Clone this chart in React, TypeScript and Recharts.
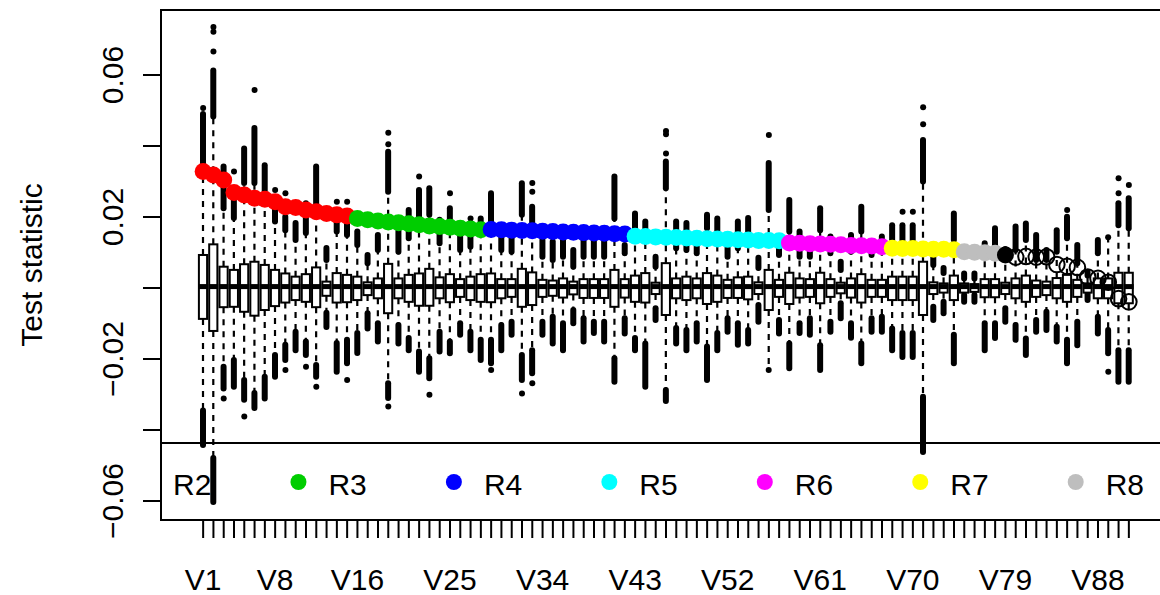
import { ComposedChart, Bar, Scatter, XAxis, YAxis } from "recharts";

const FONT = "'Liberation Sans', Arial, Helvetica, sans-serif";

// categories V1..V91
const variables = Array.from({ length: 91 }, (_, i) => `V${i + 1}`);
const shownXLabels = ["V1", "V8", "V16", "V25", "V34", "V43", "V52", "V61", "V70", "V79", "V88"];
const yTicks = [-0.06, -0.04, -0.02, 0, 0.02, 0.04, 0.06];
const shownYLabels = ["0.06", "0.02", "-0.02", "-0.06"];

// observed test statistic per variable (coloured points)
const statValues = [
  0.0328, 0.0318, 0.0304, 0.0269, 0.0262, 0.0253, 0.025, 0.0243, 0.0229, 0.0227,
  0.022, 0.0215, 0.021, 0.0206, 0.0203, 0.0196, 0.0192, 0.0189, 0.0186, 0.0184,
  0.0181, 0.0178, 0.0175, 0.0173, 0.0171, 0.0168, 0.0166, 0.0164, 0.0165, 0.0164,
  0.0163, 0.0162, 0.0161, 0.016, 0.0159, 0.0158, 0.0157, 0.0156, 0.0155, 0.0154,
  0.0153, 0.0152, 0.0146, 0.0145, 0.0144, 0.0143, 0.0142, 0.0141, 0.014, 0.0139,
  0.0138, 0.0137, 0.0136, 0.0135, 0.0134, 0.0134, 0.0133, 0.0127, 0.0126, 0.0125,
  0.0124, 0.0123, 0.0122, 0.012, 0.0119, 0.0118, 0.0116, 0.0112, 0.0111, 0.0111,
  0.011, 0.0109, 0.0109, 0.0108, 0.0102, 0.0101, 0.0099, 0.0098, 0.0093, 0.0087,
  0.0089, 0.0087, 0.0088, 0.0066, 0.0061, 0.0058, 0.0031, 0.0027, 0.0016, -0.003,
  -0.0039,
];

// boxplot quartiles and medians
const boxHigh = [
  0.0093, 0.0123, 0.006, 0.0051, 0.0067, 0.0074, 0.0065, 0.0051, 0.0041, 0.0032,
  0.0039, 0.0058, 0.0018, 0.0042, 0.0037, 0.0032, 0.0016, 0.0027, 0.0068, 0.0027,
  0.0037, 0.0041, 0.0054, 0.003, 0.0039, 0.0025, 0.0032, 0.0039, 0.0041, 0.0025,
  0.0025, 0.0054, 0.0044, 0.0023, 0.0021, 0.0027, 0.0018, 0.0025, 0.0025, 0.0025,
  0.0051, 0.0025, 0.0035, 0.0042, 0.0015, 0.007, 0.0027, 0.0032, 0.0027, 0.0042,
  0.0035, 0.0023, 0.003, 0.0032, 0.0016, 0.0051, 0.0023, 0.0043, 0.0027, 0.0025,
  0.0043, 0.0025, 0.0015, 0.0027, 0.0039, 0.0023, 0.0023, 0.0032, 0.0032, 0.0032,
  0.0074, 0.0016, 0.0013, 0.0035, 0.0013, 0.0011, 0.0025, 0.0025, 0.0015, 0.0027,
  0.0035, 0.0021, 0.0018, 0.0028, 0.0037, 0.0023, 0.0013, 0.0027, 0.0027, 0.0043,
  0.0043,
];
const boxLow = [
  -0.0087, -0.0121, -0.0054, -0.0053, -0.0067, -0.0078, -0.0062, -0.0051, -0.0041, -0.0034,
  -0.0039, -0.0054, -0.0022, -0.0041, -0.004, -0.0034, -0.002, -0.0029, -0.0071, -0.0029,
  -0.0039, -0.005, -0.005, -0.0029, -0.004, -0.0025, -0.0034, -0.0039, -0.004, -0.0029,
  -0.0025, -0.0053, -0.0048, -0.0025, -0.0022, -0.0027, -0.0018, -0.0028, -0.0028, -0.0028,
  -0.0053, -0.0027, -0.0039, -0.0041, -0.0017, -0.0076, -0.0029, -0.0034, -0.0029, -0.0045,
  -0.0039, -0.0028, -0.0028, -0.0032, -0.0017, -0.0062, -0.0025, -0.0045, -0.0027, -0.0025,
  -0.0043, -0.0025, -0.0015, -0.0027, -0.0041, -0.0025, -0.0025, -0.0034, -0.0034, -0.0034,
  -0.0076, -0.0017, -0.0013, -0.0034, -0.0013, -0.0011, -0.0026, -0.0026, -0.0017, -0.0029,
  -0.0039, -0.0025, -0.002, -0.0029, -0.0039, -0.0025, -0.0013, -0.0029, -0.0029, -0.0043,
  -0.0043,
];
const medians = [
  0.0004, 0.0004, 0.0004, 0.0004, 0.0004, 0.0004, 0.0004, 0.0004, 0.0004, 0.0004,
  0.0004, 0.0004, 0.0004, 0.0004, 0.0004, 0.0004, 0.0004, 0.0004, 0.0004, 0.0004,
  0.0004, 0.0004, 0.0004, 0.0004, 0.0004, 0.0004, 0.0004, 0.0004, 0.0004, 0.0004,
  0.0004, 0.0004, 0.0004, 0.0004, 0.0004, 0.0004, 0.0004, 0.0004, 0.0004, 0.0004,
  0.0004, 0.0004, 0.0004, 0.0004, 0.0004, 0.0004, 0.0004, 0.0004, 0.0004, 0.0004,
  0.0004, 0.0004, 0.0004, 0.0004, 0.0004, 0.0004, 0.0004, 0.0004, 0.0004, 0.0004,
  0.0004, 0.0004, 0.0004, 0.0004, 0.0004, 0.0004, 0.0004, 0.0004, 0.0004, 0.0004,
  0.0004, 0.0004, 0.0004, 0.0004, 0.0004, 0.0004, 0.0004, 0.0004, 0.0004, 0.0004,
  0.0004, 0.0004, 0.0004, 0.0004, 0.0004, 0.0004, 0.0004, 0.0004, 0.0004, 0.0004,
  0.0004,
];

// dense runs of outliers above and below each box (from, to)
const upperOutLow = [
  0.0352, 0.0483, 0.0225, 0.0197, 0.0296, 0.0296, 0.0275, 0.0187, 0.0163, 0.0135,
  0.0155, 0.0201, 0.0079, 0.0159, 0.0149, 0.0121, 0.007, 0.0107, 0.0271, 0.0102,
  0.014, 0.0196, 0.0206, 0.0126, 0.0159, 0.0107, 0.0116, 0.0154, 0.0177, 0.0107,
  0.0102, 0.0206, 0.0173, 0.0088, 0.0079, 0.0088, 0.006, 0.0088, 0.0088, 0.0088,
  0.0196, 0.0098, 0.0168, 0.014, 0.006, 0.0281, 0.0112, 0.0107, 0.0098, 0.0168,
  0.0154, 0.0088, 0.0112, 0.0155, 0.0056, 0.022, 0.0093, 0.0159, 0.0088, 0.0088,
  0.0163, 0.0098, 0.0051, 0.0102, 0.0159, 0.0093, 0.0107, 0.0135, 0.013, 0.013,
  0.03, 0.0065, 0.0042, 0.0135, 0.0027, 0.0027, 0.0107, 0.0107, 0.0093, 0.0107,
  0.0135, 0.0079, 0.0079, 0.0102, 0.014, 0.007, 0.0035, 0.0098, 0.0143, 0.0177,
  0.0168,
];
const upperOutHigh = [
  0.049, 0.0613, 0.0342, 0.0282, 0.0393, 0.0451, 0.0346, 0.0225, 0.0201, 0.0183,
  0.0239, 0.0342, 0.0113, 0.0201, 0.0187, 0.0159, 0.0093, 0.0149, 0.0384, 0.0159,
  0.022, 0.0276, 0.0281, 0.0192, 0.0225, 0.0145, 0.0154, 0.0196, 0.0267, 0.0145,
  0.014, 0.0295, 0.0229, 0.0135, 0.0131, 0.0135, 0.0107, 0.0135, 0.0135, 0.0135,
  0.0314, 0.0121, 0.021, 0.0187, 0.0088, 0.0356, 0.0187, 0.0183, 0.0121, 0.0206,
  0.0196, 0.0116, 0.0187, 0.0197, 0.0085, 0.0352, 0.0112, 0.0248, 0.0159, 0.0107,
  0.0225, 0.0145, 0.0074, 0.0149, 0.0229, 0.0112, 0.0145, 0.0177, 0.0177, 0.0177,
  0.0417, 0.0098, 0.0056, 0.021, 0.0041, 0.0041, 0.0126, 0.0168, 0.011, 0.0173,
  0.0182, 0.0149, 0.0107, 0.0163, 0.0201, 0.0121, 0.0045, 0.0135, 0.0143, 0.0239,
  0.0253,
];
const lowerOutHigh = [
  -0.0345, -0.0479, -0.0222, -0.0203, -0.0259, -0.0296, -0.025, -0.0189, -0.016, -0.0123,
  -0.0151, -0.0217, -0.007, -0.0155, -0.0146, -0.0127, -0.0071, -0.0099, -0.0268, -0.0104,
  -0.0141, -0.0179, -0.0198, -0.0123, -0.0151, -0.0099, -0.0123, -0.0146, -0.0146, -0.0104,
  -0.0095, -0.0189, -0.0175, -0.0095, -0.0081, -0.0099, -0.0062, -0.0085, -0.0095, -0.0095,
  -0.0198, -0.0085, -0.0141, -0.0156, -0.0057, -0.0287, -0.0113, -0.0118, -0.0099, -0.0165,
  -0.0127, -0.0085, -0.0099, -0.0118, -0.0048, -0.0231, -0.009, -0.0156, -0.0099, -0.0085,
  -0.0161, -0.0095, -0.0043, -0.0099, -0.0156, -0.0085, -0.0081, -0.0114, -0.0127, -0.0127,
  -0.0306, -0.0053, -0.0039, -0.0132, -0.002, -0.002, -0.0099, -0.0099, -0.0057, -0.0104,
  -0.0142, -0.009, -0.0067, -0.0109, -0.0146, -0.0095, -0.0014, -0.0081, -0.0118, -0.0175,
  -0.0175,
];
const lowerOutLow = [
  -0.0442, -0.0603, -0.0283, -0.0278, -0.0315, -0.0338, -0.0311, -0.025, -0.0203, -0.0175,
  -0.0189, -0.025, -0.011, -0.0236, -0.0212, -0.0183, -0.0114, -0.0151, -0.031, -0.0156,
  -0.0175, -0.0236, -0.0254, -0.0179, -0.0184, -0.0132, -0.0175, -0.0203, -0.0212, -0.0175,
  -0.0132, -0.0259, -0.024, -0.0132, -0.0156, -0.0175, -0.0099, -0.0151, -0.0127, -0.0151,
  -0.0264, -0.0128, -0.0175, -0.0278, -0.009, -0.0318, -0.0156, -0.0175, -0.0151, -0.0259,
  -0.0175, -0.0123, -0.016, -0.0156, -0.0095, -0.0231, -0.0128, -0.0226, -0.0127, -0.0132,
  -0.0231, -0.0123, -0.0085, -0.014, -0.0212, -0.0123, -0.0123, -0.0175, -0.0194, -0.0194,
  -0.0462, -0.009, -0.0071, -0.0212, -0.0039, -0.0039, -0.0175, -0.0141, -0.0095, -0.0146,
  -0.0189, -0.0123, -0.0118, -0.0151, -0.0212, -0.0161, -0.0034, -0.0128, -0.0184, -0.0264,
  -0.0264,
];

// single outliers standing apart: [variable number, value]
const extraOutliers: [number, number][] = [
  [1, 0.0507], [2, 0.0666], [2, 0.0722], [2, 0.0735], [3, -0.0311], [4, 0.0328],
  [5, -0.0362], [6, 0.0558], [8, 0.0276], [9, 0.0267], [9, -0.0231], [11, -0.0222],
  [12, -0.0278], [14, 0.0243], [15, 0.0243], [15, -0.0259], [19, 0.0405], [19, 0.0437],
  [19, -0.0334], [22, 0.0314], [23, -0.0301], [25, 0.0267], [27, 0.0196], [29, -0.0231],
  [32, -0.0297], [33, 0.0271], [33, 0.0296], [33, -0.0268], [46, 0.0379], [46, 0.0433],
  [46, 0.0442], [56, 0.0431], [69, 0.0215], [70, 0.0215], [71, 0.0461], [71, 0.0509],
  [85, 0.022], [89, -0.0236], [90, 0.0267], [90, 0.0309], [91, 0.029],
];

// groups of variables (R palette colours); the rest are open circles
const groups = [
  { label: "R2", color: "#FF0000", first: 1, last: 15 },
  { label: "R3", color: "#00CD00", first: 16, last: 28 },
  { label: "R4", color: "#0000FF", first: 29, last: 42 },
  { label: "R5", color: "#00FFFF", first: 43, last: 57 },
  { label: "R6", color: "#FF00FF", first: 58, last: 67 },
  { label: "R7", color: "#FFFF00", first: 68, last: 74 },
  { label: "R8", color: "#BEBEBE", first: 75, last: 78 },
  { label: "R1", color: "#000000", first: 79, last: 79 },
];
const legendLabels = ["R2", "R3", "R4", "R5", "R6", "R7", "R8"];

const rows = variables.map((name, i) => {
  const extras = extraOutliers.filter(([v]) => v === i + 1).map(([, y]) => y);
  const group = groups.find((g) => i + 1 >= g.first && i + 1 <= g.last);
  return {
    name,
    stat: statValues[i],
    q1: boxLow[i],
    q3: boxHigh[i],
    med: medians[i],
    upLo: upperOutLow[i],
    upHi: upperOutHigh[i],
    dnHi: lowerOutHigh[i],
    dnLo: lowerOutLow[i],
    iso1: extras[0] ?? null,
    iso2: extras[1] ?? null,
    iso3: extras[2] ?? null,
    color: group ? group.color : null,
  };
});

const span = (p: any) => ({
  c: p.x + p.width / 2,
  top: Math.min(p.y, p.y + p.height),
  bottom: Math.max(p.y, p.y + p.height),
});

// whisker going up from the box: dashes start at the box edge
const UpperWhisker = (p: any) => {
  const { c, top, bottom } = span(p);
  return <line x1={c} x2={c} y1={bottom} y2={top} stroke="#000" strokeWidth={2.2} strokeDasharray="6 6" />;
};
const LowerWhisker = (p: any) => {
  const { c, top, bottom } = span(p);
  return <line x1={c} x2={c} y1={top} y2={bottom} stroke="#000" strokeWidth={2.2} strokeDasharray="6 6" />;
};
const Streak = (p: any) => {
  const { c, top, bottom } = span(p);
  return <rect x={c - 3} y={top - 3} width={6} height={bottom - top + 6} rx={3} fill="#000" />;
};
const BoxShape = (p: any) => {
  const { c, top, bottom } = span(p);
  return <rect x={c - 4.1} y={top} width={8.2} height={bottom - top} fill="#fff" stroke="#000" strokeWidth={2} />;
};
const MedianShape = (p: any) => <rect x={p.cx - 4.8} y={p.cy - 2.5} width={9.6} height={5} fill="#000" />;
const isoShape = (key: string) => (p: any) =>
  p.payload[key] == null ? <g /> : <circle cx={p.cx} cy={p.cy} r={3} fill="#000" />;
const StatShape = (p: any) =>
  p.payload.color ? (
    <circle cx={p.cx} cy={p.cy} r={8.5} fill={p.payload.color} />
  ) : (
    <circle cx={p.cx} cy={p.cy} r={7.8} fill="none" stroke="#000" strokeWidth={2} />
  );

const XTick = (p: any) =>
  shownXLabels.includes(p.payload.value) ? (
    <text x={p.x} y={590} textAnchor="middle" fontSize={30} fontFamily={FONT} fill="#000">
      {p.payload.value}
    </text>
  ) : (
    <g />
  );

const YTick = (p: any) => {
  const label = Number(p.payload.value).toFixed(2);
  if (!shownYLabels.includes(label)) return <g />;
  return (
    <text x={123} y={p.y} transform={`rotate(-90 123 ${p.y})`} textAnchor="middle" fontSize={30} fontFamily={FONT} fill="#000">
      {label.replace("-", "\u2212")}
    </text>
  );
};

const App = () => {
  return (
    <div style={{ position: "absolute", left: 0, top: 0, width: 1160, height: 595, overflow: "hidden", background: "#fff" }}>
      {/* frame, y title and the clipped legend drawn underneath the chart */}
      <svg width={1160} height={595} style={{ position: "absolute", left: 0, top: 0 }}>
        <defs>
          <clipPath id="plotClip">
            <rect x={161} y={10} width={1010} height={510} />
          </clipPath>
        </defs>
        <text x={42} y={265} transform="rotate(-90 42 265)" textAnchor="middle" fontSize={30} fontFamily={FONT} fill="#000">
          Test statistic
        </text>
        <g clipPath="url(#plotClip)">
          <line x1={161} x2={1172} y1={443} y2={443} stroke="#000" strokeWidth={2} />
          {legendLabels.map((label, k) => {
            const g = groups.find((gr) => gr.label === label)!;
            const dx = 143 + k * 155.45;
            return (
              <g key={label}>
                <circle cx={dx} cy={482} r={8} fill={g.color} />
                <text x={dx + 30} y={495} fontSize={30} fontFamily={FONT} fill="#000">
                  {label}
                </text>
              </g>
            );
          })}
        </g>
        <rect x={161} y={10} width={1012} height={510} fill="none" stroke="#000" strokeWidth={2} />
      </svg>

      <div style={{ position: "absolute", left: 0, top: 0 }}>
        <ComposedChart
          width={1172}
          height={595}
          data={rows}
          margin={{ top: 10, right: 1, bottom: 0, left: 0 }}
          barSize={10}
          barGap={-10}
        >
          <XAxis
            dataKey="name"
            type="category"
            interval={0}
            height={75}
            padding={{ left: 37, right: 37 }}
            axisLine={false}
            stroke="#000"
            tickSize={18}
            tickLine={{ stroke: "#000", strokeWidth: 2 }}
            tick={XTick}
          />
          <YAxis
            type="number"
            width={161}
            domain={[-0.06535, 0.07831]}
            allowDataOverflow
            ticks={yTicks}
            interval={0}
            axisLine={false}
            stroke="#000"
            tickSize={18}
            tickLine={{ stroke: "#000", strokeWidth: 2 }}
            tick={YTick}
          />
          <Bar dataKey={(d: any) => [d.q3, d.upLo]} shape={UpperWhisker} isAnimationActive={false} />
          <Bar dataKey={(d: any) => [d.dnHi, d.q1]} shape={LowerWhisker} isAnimationActive={false} />
          <Bar dataKey={(d: any) => [d.upLo, d.upHi]} shape={Streak} isAnimationActive={false} />
          <Bar dataKey={(d: any) => [d.dnLo, d.dnHi]} shape={Streak} isAnimationActive={false} />
          <Bar dataKey={(d: any) => [d.q1, d.q3]} shape={BoxShape} isAnimationActive={false} />
          <Scatter dataKey="med" shape={MedianShape} isAnimationActive={false} />
          <Scatter dataKey="iso1" shape={isoShape("iso1")} isAnimationActive={false} />
          <Scatter dataKey="iso2" shape={isoShape("iso2")} isAnimationActive={false} />
          <Scatter dataKey="iso3" shape={isoShape("iso3")} isAnimationActive={false} />
          <Scatter dataKey="stat" shape={StatShape} isAnimationActive={false} />
        </ComposedChart>
      </div>
    </div>
  );
};

export default App;
